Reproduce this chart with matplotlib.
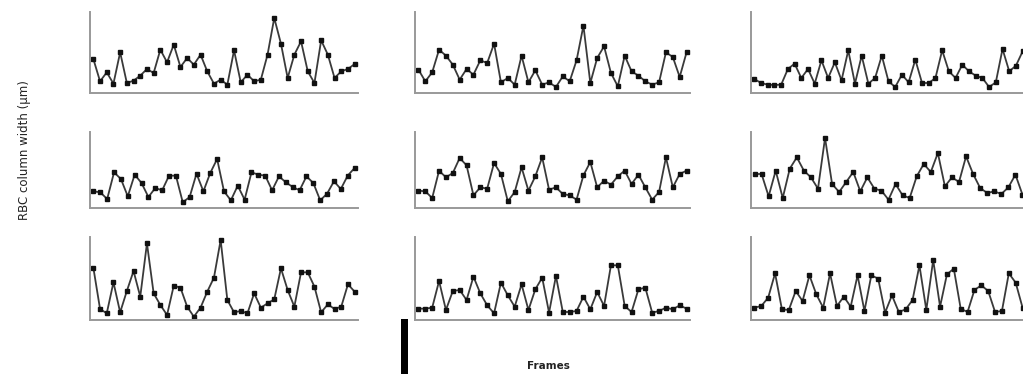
import matplotlib.pyplot as plt
from matplotlib.patches import Rectangle

# RBC column width traces, one list per panel (arbitrary units)
trace_a = [102, 35, 62, 28, 122, 30, 37, 52, 72, 60, 130, 92, 145, 78, 105, 85, 115, 65, 28, 40,
           25, 128, 32, 55, 35, 40, 115, 225, 148, 45, 115, 155, 65, 30, 158, 115, 45, 65, 72, 87]
trace_b = [70, 35, 62, 130, 112, 85, 40, 72, 55, 98, 90, 148, 32, 45, 25, 112, 32, 68, 25, 32,
           18, 50, 35, 98, 202, 30, 105, 140, 60, 20, 112, 65, 52, 35, 25, 32, 122, 108, 48, 122]
trace_c = [42, 30, 25, 24, 25, 72, 88, 45, 72, 28, 98, 45, 92, 38, 128, 28, 112, 28, 45, 112,
           35, 18, 55, 32, 100, 30, 30, 45, 128, 65, 45, 85, 65, 52, 45, 18, 32, 132, 65, 82, 125]
trace_d = [50, 47, 27, 107, 87, 35, 100, 75, 33, 60, 53, 97, 97, 17, 33, 103, 50, 105, 147, 50,
           23, 67, 25, 107, 100, 97, 53, 95, 77, 63, 53, 95, 75, 23, 43, 80, 57, 97, 120]
trace_e = [52, 50, 30, 112, 92, 105, 150, 128, 38, 62, 58, 135, 102, 20, 48, 122, 52, 95, 152, 55,
           62, 42, 38, 25, 98, 138, 62, 82, 70, 95, 112, 72, 100, 62, 25, 48, 152, 62, 102, 112]
trace_f = [102, 102, 35, 112, 30, 118, 152, 112, 92, 58, 210, 72, 48, 78, 108, 50, 92, 58, 52, 25,
           72, 38, 30, 95, 132, 108, 165, 65, 92, 78, 155, 102, 60, 45, 50, 42, 62, 100, 40]
trace_g = [157, 33, 20, 113, 23, 87, 147, 70, 230, 80, 45, 15, 103, 97, 40, 10, 37, 85, 127, 240,
           60, 23, 27, 20, 80, 37, 50, 62, 155, 90, 40, 143, 143, 100, 23, 47, 33, 40, 107, 85]
trace_h = [34, 34, 37, 117, 30, 87, 90, 60, 130, 80, 44, 20, 112, 74, 40, 107, 30, 92, 127, 22,
           132, 24, 24, 27, 70, 32, 84, 42, 164, 164, 42, 24, 92, 97, 22, 27, 37, 32, 44, 34]
trace_i = [37, 42, 67, 140, 32, 30, 87, 57, 134, 77, 37, 140, 42, 70, 40, 134, 27, 134, 124, 22,
           74, 24, 32, 60, 164, 30, 180, 40, 137, 154, 34, 24, 90, 104, 87, 24, 27, 140, 112, 37]

traces = [[trace_a, trace_b, trace_c],
          [trace_d, trace_e, trace_f],
          [trace_g, trace_h, trace_i]]

W, H = 1023, 374
col_left = [90, 415, 751]
col_right = [358, 690, 1026]
row_top = [12, 132, 237]
row_bot = [93, 208, 320]
row_ymax = [243, 228, 249]

fig = plt.figure(figsize=(W / 100, H / 100), dpi=100)

for r in range(3):
    for c in range(3):
        y = traces[r][c]
        ax = fig.add_axes([col_left[c] / W, 1 - row_bot[r] / H,
                           (col_right[c] - col_left[c]) / W, (row_bot[r] - row_top[r]) / H])
        ax.plot(range(len(y)), y, color="#3a3a3a", lw=1.3,
                marker="s", ms=2.4, mfc="#111111", mec="#111111")
        ax.set_xlim(-0.5, len(y) - 0.5)
        ax.set_ylim(0, row_ymax[r])
        ax.set_xticks([])
        ax.set_yticks([])
        for side in ["top", "right"]:
            ax.spines[side].set_visible(False)
        for side in ["left", "bottom"]:
            ax.spines[side].set_color("#999999")
            ax.spines[side].set_linewidth(1.4)

fig.text(25 / W, 1 - 150 / H, "RBC column width (µm)", rotation=90,
         ha="center", va="center", fontsize=8.5, color="#222222")
fig.text(548 / W, 1 - 366 / H, "Frames", ha="center", va="center",
         fontsize=7.5, fontweight="bold", color="#222222")

# thick black bar under the middle column
fig.add_artist(Rectangle((401 / W, 0), 7 / W, (H - 319) / H,
                         transform=fig.transFigure, color="black", lw=0))

fig.savefig("out.png", dpi=100)
